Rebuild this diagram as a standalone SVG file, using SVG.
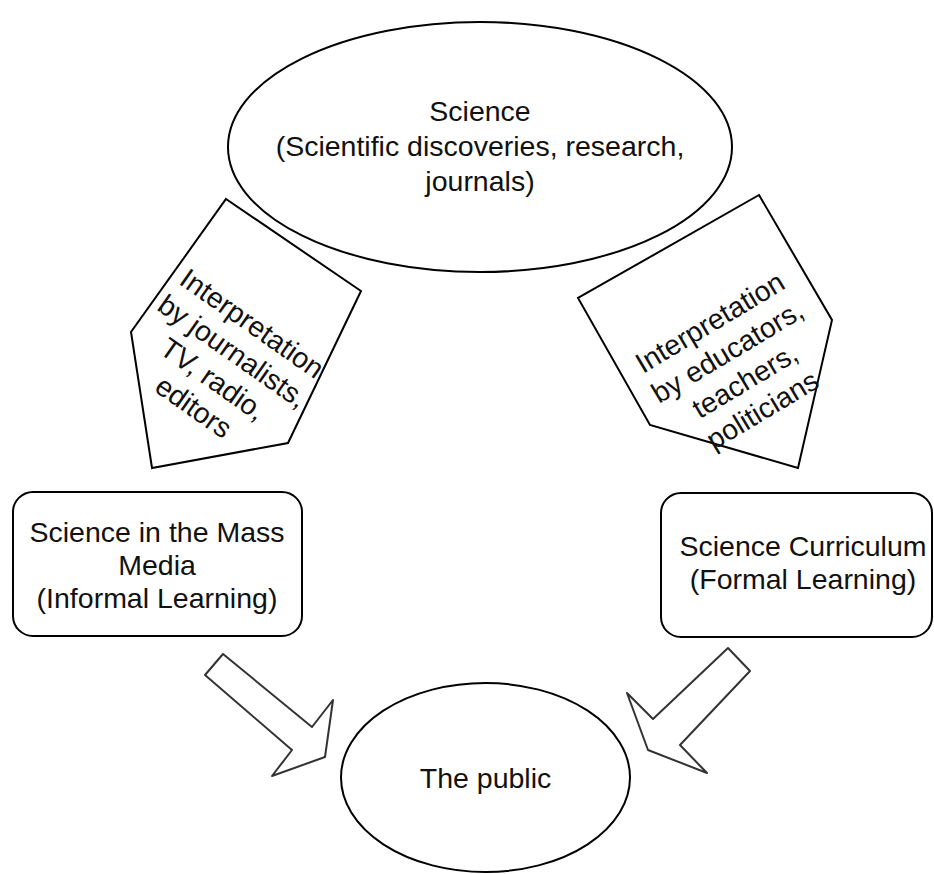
<svg xmlns="http://www.w3.org/2000/svg" width="934" height="874" viewBox="0 0 934 874">
<style>
.s{fill:#fff;stroke:#000;stroke-width:2;stroke-linejoin:miter}
.a{fill:#fff;stroke:#333;stroke-width:2;stroke-linejoin:round}
text{font-family:"Liberation Sans",Arial,sans-serif;font-size:28.5px;fill:#111;text-anchor:middle}
</style>
<rect width="934" height="874" fill="#fff"/>
<g id="science">
<ellipse class="s" cx="480" cy="147" rx="252" ry="125"/>
<text x="480" y="121">Science</text>
<text x="480" y="156">(Scientific discoveries, research,</text>
<text x="480" y="191">journals)</text>
</g>
<g id="interp-media">
<polygon class="s" points="226,199 361,291 288,443 152,468 131,332"/>
<g transform="translate(223,365) rotate(35)">
<text x="0" y="-41">Interpretation</text>
<text x="0" y="-7">by journalists,</text>
<text x="0" y="27">TV, radio,</text>
<text x="0" y="61">editors</text>
</g>
</g>
<g id="interp-edu">
<polygon class="s" points="759,195 832,320 798,468 650,425 578,298"/>
<g transform="translate(736,366) rotate(-31)">
<text x="0" y="-41">Interpretation</text>
<text x="0" y="-7">by educators,</text>
<text x="0" y="27">teachers,</text>
<text x="0" y="61">politicians</text>
</g>
</g>
<g id="mass-media">
<rect class="s" x="13" y="492" width="289" height="144" rx="20" ry="20"/>
<text x="157" y="542">Science in the Mass</text>
<text x="157" y="575">Media</text>
<text x="157" y="608">(Informal Learning)</text>
</g>
<g id="curriculum">
<rect class="s" x="661" y="493" width="271" height="144" rx="20" ry="20"/>
<text x="803" y="556">Science Curriculum</text>
<text x="803" y="589">(Formal Learning)</text>
</g>
<g id="public">
<ellipse class="s" cx="485.5" cy="777.5" rx="144.5" ry="94.5"/>
<text x="485.5" y="788">The public</text>
</g>
<g id="connectors">
<polygon class="a" points="223,654 312,727 333,700 325,757 272,776 292,750 205,675"/>
<polygon class="a" points="728,648 750,671 680,745 707,773 648,750 627,693 653,719"/>
</g>
</svg>
